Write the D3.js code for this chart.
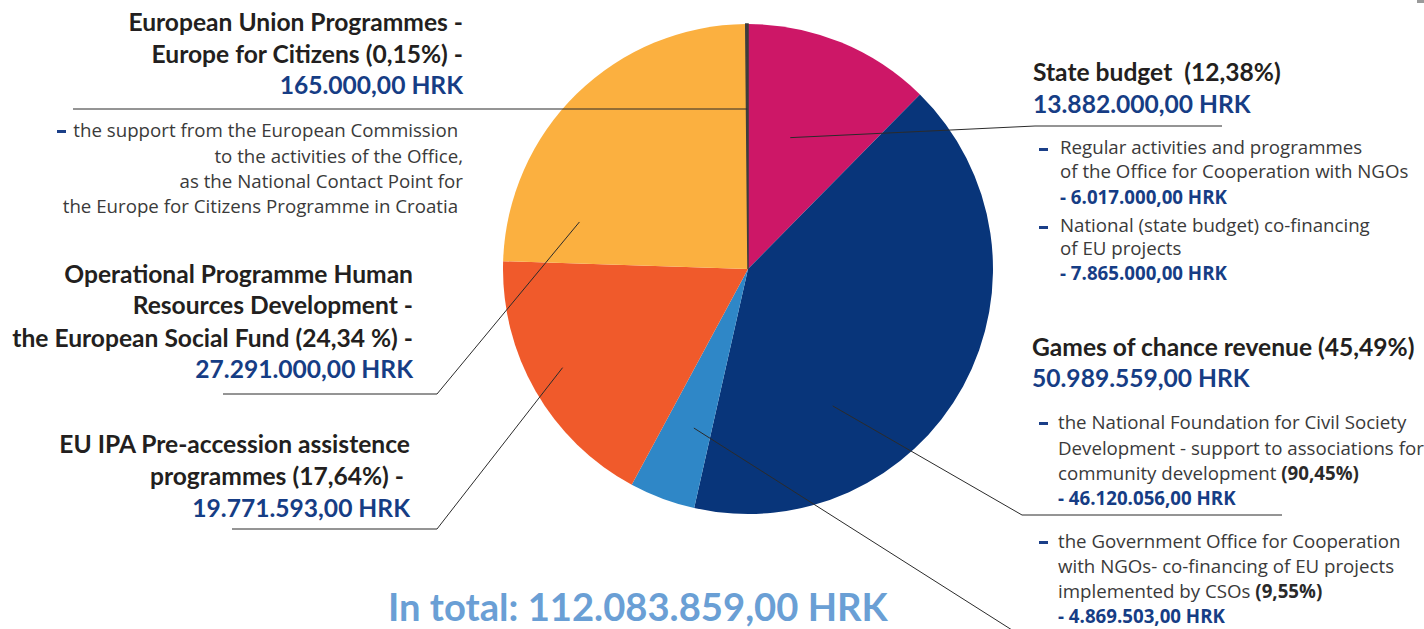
<!DOCTYPE html>
<html>
<head>
<meta charset="utf-8">
<script src="https://cdn.jsdelivr.net/npm/d3@7"></script>
<style>
  body { margin: 0; background: #fff; }
  svg text { white-space: pre; }
  .h  { font-family: Lato; font-weight: 700; font-size: 24.6px; fill: #231f20; }
  .ha { font-family: Lato; font-weight: 700; font-size: 24.6px; fill: #163d85; }
  .b  { font-family: "Open Sans"; font-size: 18.7px; fill: #3a3a3a; }
  .bb { font-family: "Open Sans"; font-weight: 700; font-size: 18.7px; fill: #2a2a2a; }
  .ba { font-family: "Open Sans"; font-weight: 700; font-size: 18.7px; fill: #163d85; }
  .tot { font-family: Lato; font-weight: 700; font-size: 38.2px; fill: #6a9fd5; }
</style>
</head>
<body>
<svg id="chart" width="1424" height="629"></svg>
<script>
// slices, clockwise from 12 o'clock
const sliceNames = [
  'State budget',
  'Games of chance - National Foundation',
  'Games of chance - Government Office',
  'EU IPA',
  'European Social Fund',
  'Europe for Citizens'
];
const sliceValues = [13882000, 46120056, 4869503, 19771593, 27291000, 165000];
const sliceColors = ['#cd1767', '#08357a', '#2f87c7', '#f05a2b', '#fbb040', '#3d3d3d'];

const totalText = 'In total: 112.083.859,00 HRK';

// label texts: [text, class] segments per line
const efcHead = [[['European Union Programmes -', 'h']], [['Europe for Citizens (0,15%) -', 'h']], [['165.000,00 HRK', 'ha']]];
const efcBody = [[['the support from the European Commission ', 'b']], [['to the activities of the Office,', 'b']],
                 [['as the National Contact Point for', 'b']], [['the Europe for Citizens Programme in Croatia ', 'b']]];
const esfHead = [[['Operational Programme Human', 'h']], [['Resources Development -', 'h']],
                 [['the European Social Fund (24,34 %) -', 'h']], [['27.291.000,00 HRK', 'ha']]];
const ipaHead = [[['EU IPA Pre-accession assistence', 'h']], [['programmes (17,64%) - ', 'h']], [['19.771.593,00 HRK', 'ha']]];
const stateHead = [[['State budget  (12,38%)', 'h']], [['13.882.000,00 HRK', 'ha']]];
const stateBody = [[['Regular activities and programmes', 'b']], [['of the Office for Cooperation with NGOs', 'b']],
                   [['- 6.017.000,00 HRK', 'ba']], [['National (state budget) co-financing', 'b']],
                   [['of EU projects', 'b']], [['- 7.865.000,00 HRK', 'ba']]];
const gamesHead = [[['Games of chance revenue (45,49%)', 'h']], [['50.989.559,00 HRK', 'ha']]];
const gamesBody = [[['the National Foundation for Civil Society', 'b']], [['Development - support to associations for', 'b']],
                   [['community development ', 'b'], ['(90,45%)', 'bb']], [['- 46.120.056,00 HRK', 'ba']],
                   [['the Government Office for Cooperation', 'b']], [['with NGOs- co-financing of EU projects', 'b']],
                   [['implemented by CSOs ', 'b'], ['(9,55%)', 'bb']], [['- 4.869.503,00 HRK', 'ba']]];

const svg = d3.select('#chart');
const cx = 748, cy = 269, R = 245;

const color = d3.scaleOrdinal().domain(sliceNames).range(sliceColors);
const pie = d3.pie().sort(null).value(d => d.value);
const arc = d3.arc().innerRadius(0).outerRadius(R);

const arcs = pie(sliceNames.map((n, i) => ({ name: n, value: sliceValues[i] })));

const g = svg.append('g').attr('transform', `translate(${cx},${cy})`);
g.selectAll('path')
  .data(arcs)
  .enter().append('path')
  .attr('d', arc)
  .attr('fill', d => color(d.data.name))
  .attr('stroke', d => d.data.value < 1e6 ? color(d.data.name) : 'none')
  .attr('stroke-width', 1.5);

// leader lines: anchor inside slice (fraction of the slice angle, radius), then elbow points
const leaders = [
  { i: 0, t: 0.40, r: 138, pts: [[1035, 126], [1222, 126]] },
  { i: 1, t: 0.70, r: 161, pts: [[1022, 515], [1282, 515]] },
  { i: 2, t: 0.39, r: 168, pts: [[1012, 630]] },
  { i: 3, t: 0.53, r: 210, pts: [[437, 529], [232, 529]] },
  { i: 4, t: 0.157, r: 175, pts: [[437, 394], [223, 394]] },
  { i: 5, t: 0.5, r: 160, pts: [[73, 109]] }
];
const line = d3.line();
svg.append('g').selectAll('path')
  .data(leaders)
  .enter().append('path')
  .attr('d', d => {
    const a = arcs[d.i];
    const ang = a.startAngle + d.t * (a.endAngle - a.startAngle);
    const p = d3.pointRadial(ang, d.r);
    return line([[cx + p[0], cy + p[1]]].concat(d.pts));
  })
  .attr('fill', 'none')
  .attr('stroke', '#2b2b2b')
  .attr('stroke-width', 1);

// text blocks
function block(lines, x, ys, anchor) {
  const t = svg.append('g').selectAll('text')
    .data(lines)
    .enter().append('text')
    .attr('x', x)
    .attr('y', (d, i) => ys[i])
    .attr('text-anchor', anchor);
  t.selectAll('tspan')
    .data(d => d)
    .enter().append('tspan')
    .attr('class', d => d[1])
    .text(d => d[0]);
}

block(efcHead, 463, [31, 63, 94], 'end');
block(efcBody, 463, [137, 163, 188, 213], 'end');
block(esfHead, 413, [283, 314, 347, 378], 'end');
block(ipaHead, 410, [453, 485, 517], 'end');
block(stateHead, 1033, [81, 113], 'start');
block(stateBody, 1060, [154, 178, 204, 232, 255, 280], 'start');
block(gamesHead, 1032, [356, 387], 'start');
block(gamesBody, 1058, [429, 455, 480, 505, 548, 573, 598, 623], 'start');

// bullet dashes
const dashes = [[57, 130], [1039, 148], [1039, 226], [1039, 422], [1039, 541]];
svg.append('g').selectAll('rect')
  .data(dashes)
  .enter().append('rect')
  .attr('x', d => d[0]).attr('y', d => d[1])
  .attr('width', 9).attr('height', 3)
  .attr('fill', '#1b3f88');

svg.append('text')
  .attr('class', 'tot')
  .attr('x', 388).attr('y', 621)
  .text(totalText);

svg.append('rect').attr('x', 1417).attr('y', 0).attr('width', 7).attr('height', 3).attr('fill', '#9a9a9a');
</script>
</body>
</html>
